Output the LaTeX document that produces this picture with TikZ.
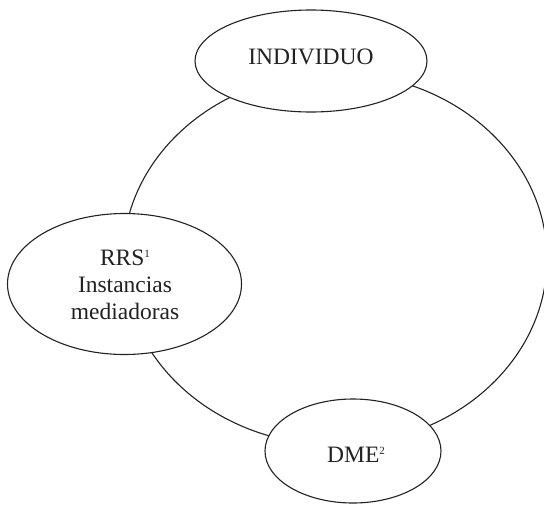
\documentclass[tikz,border=0pt]{standalone}
\usepackage{fontspec}
\setmainfont{Liberation Serif}
\usetikzlibrary{shapes.geometric}
\definecolor{ink}{HTML}{222222}
\newcommand{\supnum}[1]{\raisebox{8pt}{\fontsize{11}{11}\selectfont #1}}
\begin{document}
\begin{tikzpicture}[x=1pt,y=-1pt,
  bubble/.style={draw=ink, fill=white, ellipse, inner sep=0pt, line width=1.1pt},
  lbl/.style={text=ink, inner sep=0pt, anchor=base, font=\fontsize{23.5}{27}\selectfont},
  ring/.style={draw=ink, line width=1.1pt}]
\useasboundingbox (0,0) rectangle (544,504);
\clip (0,0) rectangle (544,504);
% big loop
\coordinate (loopc) at (335,259);
\draw[ring] (loopc) ellipse [x radius=212pt, y radius=186pt];
% ellipses
\node[bubble, minimum width=232pt, minimum height=102pt] (ind) at (311,61) {};
\node[bubble, minimum width=234pt, minimum height=141pt] (rrs) at (124.5,284) {};
\node[bubble, minimum width=176pt, minimum height=104pt] (dme) at (353,451) {};
% labels
\node[lbl] (indtxt) at (311,64) {INDIVIDUO};
\node[lbl] (rrs1) at (125,265) {RRS\supnum{1}};
\node[lbl] (rrs2) at (125,292) {Instancias};
\node[lbl] (rrs3) at (125,319) {mediadoras};
\node[lbl] (dmetxt) at (356,462) {DME\supnum{2}};
\end{tikzpicture}
\end{document}
